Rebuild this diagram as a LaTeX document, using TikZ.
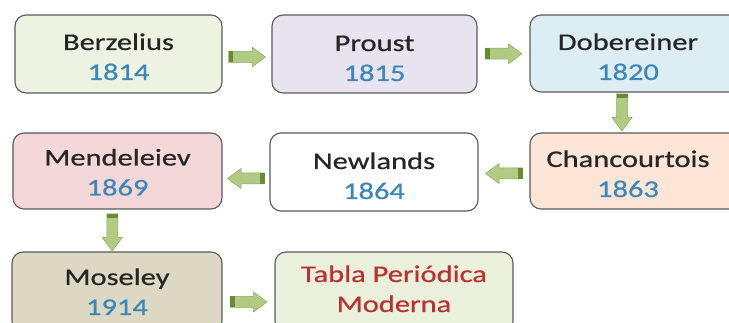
\documentclass[tikz,border=0pt]{standalone}
\usepackage{fontspec}
\setmainfont[FakeStretch=1.27,FakeBold=0.6]{Carlito}
\usetikzlibrary{calc}
\definecolor{bordc}{HTML}{5A5A5A}
\definecolor{namec}{HTML}{262626}
\definecolor{yearc}{HTML}{3C86B8}
\definecolor{redc}{HTML}{B83232}
\definecolor{fber}{HTML}{EEF2E0}
\definecolor{fpro}{HTML}{E7E4EF}
\definecolor{fdob}{HTML}{DCEDF4}
\definecolor{fcha}{HTML}{FBE5D6}
\definecolor{fnew}{HTML}{FFFFFF}
\definecolor{fmen}{HTML}{F4D8D9}
\definecolor{fmos}{HTML}{DDD8C3}
\definecolor{ftab}{HTML}{EAF0DC}
\definecolor{arrf}{HTML}{B2CB84}
\definecolor{arrd}{HTML}{8CAA58}
\definecolor{arrt}{HTML}{6A8A38}
\tikzset{
  box/.style={draw=bordc, line width=1.1pt, rounded corners=11pt,
    align=center, font=\fontsize{24}{30}\selectfont, text=namec, inner sep=0pt,
    text height=52pt, text depth=0pt},
  blockarrow/.pic={
    \filldraw[fill=arrf, draw=arrd, line width=0.5pt]
      (-18.5,-5.5) -- (5,-5.5) -- (5,-10) -- (18.5,0) -- (5,10) -- (5,5.5) -- (-18.5,5.5) -- cycle;
    \fill[arrt] (-18.5,-5.5) rectangle (-14,5.5);
  }
}
\begin{document}
\begin{tikzpicture}[x=1pt,y=1pt]
\useasboundingbox (0,0) rectangle (729,-323);
\fill[white] (0,0) rectangle (729,-323);
% row 1
\node[box, fill=fber, minimum width=207, minimum height=78] (ber) at (118.5,-54) {Berzelius\\\textcolor{yearc}{1814}};
\node[box, fill=fpro, minimum width=205, minimum height=78, text height=54pt] (pro) at (374.5,-54) {Proust\\\textcolor{yearc}{1815}};
\node[box, fill=fdob, minimum width=210, minimum height=77, text height=53pt] (dob) at (635,-53.5) {\hspace*{-14pt}Dobereiner\\\hspace*{-14pt}\textcolor{yearc}{1820}};
% row 2
\node[box, fill=fmen, minimum width=209, minimum height=76, text height=49pt] (men) at (117.5,-171) {Mendeleiev\\\textcolor{yearc}{1869}};
\node[box, fill=fnew, minimum width=208, minimum height=78, text height=54pt] (new) at (374,-172) {Newlands\\\textcolor{yearc}{1864}};
\node[box, fill=fcha, minimum width=210, minimum height=76] (cha) at (635,-171) {\hspace*{-14pt}Chancourtois\\\hspace*{-14pt}\textcolor{yearc}{1863}};
% row 3
\node[box, fill=fmos, minimum width=210, minimum height=80, text height=46pt] (mos) at (117,-292) {Moseley\\\textcolor{yearc}{1914}};
\node[box, fill=ftab, minimum width=238, minimum height=80, text=redc, text height=40pt] (tab) at (394,-292) {Tabla Periódica\\Moderna};
% arrows
\path ($(ber.east)!0.5!(pro.west)$) ++(0,-3) pic {blockarrow};
\path ($(pro.east)!0.5!(dob.west)$) ++(0,0) pic {blockarrow};
\path ($(dob.south)!0.5!(cha.north)$) ++(-13,0) pic[rotate=-90] {blockarrow};
\path ($(cha.west)!0.5!(new.east)$) ++(0,-2) pic[rotate=180] {blockarrow};
\path ($(new.west)!0.5!(men.east)$) ++(0,-7) pic[rotate=180] {blockarrow};
\path ($(men.south)!0.5!(mos.north)$) ++(-5,-2) pic[rotate=-90] {blockarrow};
\path ($(mos.east)!0.5!(tab.west)$) ++(0,-10) pic {blockarrow};
\end{tikzpicture}
\end{document}
